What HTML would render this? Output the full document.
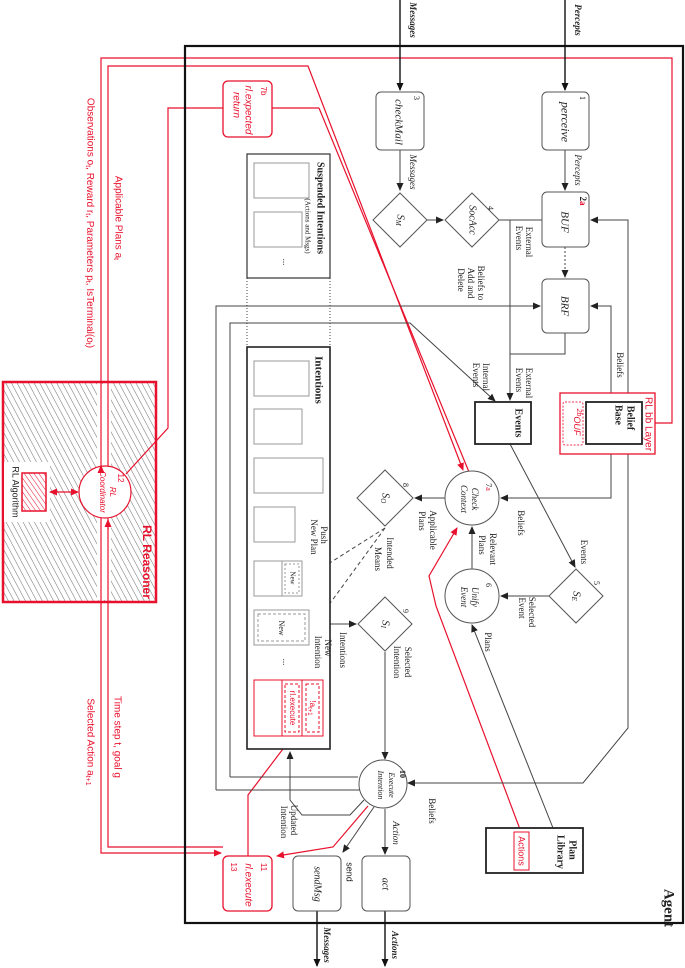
<!DOCTYPE html>
<html><head><meta charset="utf-8"><style>
html,body{margin:0;padding:0;background:#fff;}
svg{display:block;}
text{font-family:"Liberation Serif",serif;fill:#222;}
.s{font-family:"Liberation Sans",sans-serif;}
.r{fill:#e8112d;}
.i{font-style:italic;}
.b{font-weight:bold;}
</style></head><body>
<svg width="685" height="968" viewBox="0 0 685 968" xmlns="http://www.w3.org/2000/svg">
<defs>
<marker id="ak" markerWidth="8" markerHeight="8" refX="7" refY="4" orient="auto" markerUnits="userSpaceOnUse"><path d="M0,0.5 L8,4 L0,7.5z" fill="#111"/></marker>
<marker id="ag" markerWidth="8" markerHeight="8" refX="7" refY="4" orient="auto" markerUnits="userSpaceOnUse"><path d="M0,0.5 L8,4 L0,7.5z" fill="#222"/></marker>
<marker id="ar" markerWidth="8" markerHeight="8" refX="7" refY="4" orient="auto" markerUnits="userSpaceOnUse"><path d="M0,0.5 L8,4 L0,7.5z" fill="#e8112d"/></marker>
<marker id="ars" markerWidth="8" markerHeight="8" refX="1" refY="4" orient="auto" markerUnits="userSpaceOnUse"><path d="M8,0.5 L0,4 L8,7.5z" fill="#e8112d"/></marker>
<pattern id="h" width="5" height="5" patternUnits="userSpaceOnUse" patternTransform="rotate(-28)"><line x1="0" y1="0" x2="0" y2="5" stroke="#777" stroke-width="1.1"/></pattern>
<pattern id="hr" width="4" height="4" patternUnits="userSpaceOnUse" patternTransform="rotate(-35)"><line x1="0" y1="0" x2="0" y2="4" stroke="#e8112d" stroke-width="1"/></pattern>
</defs>

<!-- RL Reasoner -->
<rect x="3" y="382" width="153" height="220" fill="url(#h)" stroke="#e8112d" stroke-width="2.5"/>
<rect x="97" y="384" width="14" height="216" fill="#fff"/>
<rect x="4" y="462" width="46" height="60" fill="#fff"/>
<rect x="22" y="473" width="24" height="38" fill="url(#hr)" stroke="#e8112d" stroke-width="1.5"/>
<circle cx="105" cy="492" r="26" fill="#fff" stroke="#e8112d" stroke-width="1.2"/>
<line x1="50" y1="492" x2="78" y2="492" stroke="#e8112d" stroke-width="1.2" marker-end="url(#ar)" marker-start="url(#ars)"/>

<!-- red long lines -->
<g fill="none" stroke="#e8112d" stroke-width="1.2">
<polyline points="101,466 101,58 672,58 672,423 655,423"/>
<polyline points="108,466 108,66 308,66 463,470" marker-end="url(#ar)"/>
<polyline points="319,108 272,108"/>
<polyline points="319,108 469,472"/>
<polyline points="223,108 168,108 168,428 126,474"/>
<polyline points="108,518 108,847 223,847"/>
<polyline points="101,470 101,466" marker-end="url(#ar)"/>
<polyline points="101,518 101,853 221,853" marker-end="url(#ar)"/>
<polyline points="108,530 108,520" marker-end="url(#ar)"/>
<polyline points="521,832 436,606 429,576 457,528" marker-end="url(#ar)"/>
<polyline points="368,806 333,847 277,856" marker-end="url(#ar)"/>
<polyline points="248,856 248,795 289,741" marker-end="url(#ar)"/>
</g>

<!-- Agent -->
<rect x="185" y="46" width="498" height="877" fill="none" stroke="#111" stroke-width="2.2"/>

<!-- grey connectors -->
<g fill="none" stroke="#444" stroke-width="1">
<line x1="400" y1="150" x2="400" y2="190" marker-end="url(#ag)"/>
<line x1="565" y1="150" x2="565" y2="190" marker-end="url(#ag)"/>
<line x1="427" y1="220" x2="443" y2="220" marker-end="url(#ag)"/>
<line x1="499" y1="220" x2="542" y2="220"/>
<line x1="510" y1="220" x2="510" y2="400" marker-end="url(#ag)"/>
<line x1="565" y1="247" x2="565" y2="277" stroke-dasharray="2,2" marker-end="url(#ag)"/>
<polyline points="565,333 565,354 510,354"/>
<polyline points="628,396 628,220 591,220" marker-end="url(#ag)"/>
<polyline points="611,400 611,306 591,306" marker-end="url(#ag)"/>
<polyline points="611,306 611,400" marker-end="url(#ag)"/>
<polyline points="628,220 628,400" marker-end="url(#ag)"/>
<polyline points="628,454 628,728 583,783 408,783" marker-end="url(#ag)"/>
<polyline points="611,454 611,498 501,498" marker-end="url(#ag)"/>
<polyline points="216,790 216,306 540,306" marker-end="url(#ag)"/>
<polyline points="230,777 230,323 410,323 495,401" marker-end="url(#ag)"/>
<line x1="358" y1="777" x2="230" y2="777"/>
<line x1="360" y1="790" x2="216" y2="790"/>
<line x1="510" y1="444" x2="575" y2="567" marker-end="url(#ag)"/>
<line x1="549" y1="596" x2="501" y2="596" marker-end="url(#ag)"/>
<line x1="472" y1="569" x2="472" y2="527" marker-end="url(#ag)"/>
<line x1="553" y1="828" x2="472" y2="625" marker-end="url(#ag)"/>
<line x1="445" y1="498" x2="415" y2="498" marker-end="url(#ag)"/>
<line x1="385" y1="528" x2="306" y2="578" stroke-dasharray="4,3" marker-end="url(#ag)"/>
<line x1="385" y1="528" x2="312" y2="628" stroke-dasharray="4,3" marker-end="url(#ag)"/>
<line x1="330" y1="624" x2="356" y2="624" marker-end="url(#ag)"/>
<line x1="385" y1="652" x2="385" y2="759" marker-end="url(#ag)"/>
<line x1="385" y1="809" x2="385" y2="854" marker-end="url(#ag)"/>
<line x1="374" y1="807" x2="343" y2="852" marker-end="url(#ag)"/>
<polyline points="364,800 350,815 302,815 290,800 290,752" marker-end="url(#ag)"/>
<line x1="247" y1="278" x2="247" y2="347" stroke-dasharray="1,2"/>
<line x1="330" y1="278" x2="330" y2="347" stroke-dasharray="1,2"/>
</g>
<g stroke="#111" stroke-width="1.4">
<line x1="400" y1="0" x2="400" y2="90" marker-end="url(#ak)"/>
<line x1="565" y1="0" x2="565" y2="90" marker-end="url(#ak)"/>
<line x1="317" y1="911" x2="317" y2="966" marker-end="url(#ak)"/>
<line x1="385" y1="911" x2="385" y2="966" marker-end="url(#ak)"/>
</g>

<!-- nodes -->
<g fill="#fff" stroke="#555" stroke-width="1">
<rect x="542" y="92" width="47" height="58" rx="5"/>
<rect x="376" y="92" width="48" height="58" rx="5"/>
<rect x="542" y="192" width="47" height="55" rx="5"/>
<rect x="542" y="279" width="47" height="54" rx="5"/>
<polygon points="400,193 427,220 400,247 373,220"/>
<polygon points="472,193 499,220 472,247 445,220"/>
<polygon points="385,470 413,498 385,526 357,498"/>
<polygon points="576,569 603,596 576,623 549,596"/>
<polygon points="385,597 412,624 385,651 358,624"/>
<circle cx="472" cy="498" r="27"/>
<circle cx="472" cy="596" r="27"/>
<circle cx="383" cy="784" r="24"/>
<rect x="362" y="856" width="48" height="55" rx="5"/>
<rect x="293" y="856" width="48" height="55" rx="5"/>
</g>
<rect x="247" y="154" width="83" height="124" fill="#fff" stroke="#333" stroke-width="1.2"/>
<rect x="254" y="163" width="55" height="35" fill="none" stroke="#999"/>
<rect x="254" y="212" width="48" height="35" fill="none" stroke="#999"/>
<rect x="247" y="347" width="83" height="402" fill="#fff" stroke="#222" stroke-width="1.6"/>
<g fill="none" stroke="#999">
<rect x="254" y="361" width="55" height="35"/>
<rect x="254" y="409" width="48" height="35"/>
<rect x="254" y="458" width="69" height="35"/>
<rect x="254" y="507" width="41" height="35"/>
<rect x="254" y="561" width="48" height="35"/>
<line x1="282" y1="561" x2="282" y2="596"/>
<rect x="285" y="564" width="14" height="29" stroke-dasharray="2,2"/>
<rect x="254" y="610" width="55" height="35"/>
<rect x="258" y="614" width="47" height="27" stroke-dasharray="3,2"/>
</g>
<g fill="none" stroke="#e8112d" stroke-width="1">
<rect x="254" y="680" width="69" height="56"/>
<line x1="282" y1="680" x2="282" y2="736"/>
<line x1="302" y1="680" x2="302" y2="736"/>
<rect x="285" y="684" width="14" height="48" stroke-dasharray="3,2"/>
<rect x="306" y="684" width="13" height="48" stroke-dasharray="3,2"/>
<rect x="223" y="81" width="49" height="56" rx="5" stroke-width="1.3" fill="#fff"/>
<rect x="223" y="856" width="49" height="55" rx="5" stroke-width="1.3" fill="#fff"/>
<rect x="560" y="393" width="95" height="61" stroke-width="1.3" fill="#fff"/>
<rect x="563" y="402" width="20" height="43" rx="2" stroke="#e35" stroke-dasharray="2,1.5"/>
</g>
<rect x="475" y="402" width="56" height="42" fill="#fff" stroke="#222" stroke-width="1.8"/>
<rect x="586" y="402" width="56" height="42" fill="#fff" stroke="#222" stroke-width="1.8"/>
<rect x="486" y="828" width="97" height="45" fill="#fff" stroke="#222" stroke-width="1.8"/>
<rect x="514" y="832" width="15" height="38" fill="#fff" stroke="#e8112d" stroke-width="1"/>

<!-- labels -->
<g font-size="10" text-anchor="middle" dominant-baseline="middle">
<text x="577" y="20" transform="rotate(90 577 20)" class="i b" font-size="9">Percepts</text>
<text x="412" y="20" transform="rotate(90 412 20)" class="i b" font-size="9">Messages</text>
<text x="582" y="98" transform="rotate(90 582 98)" font-size="8">1</text>
<text x="564" y="122" transform="rotate(90 564 122)" class="i" font-size="12">perceive</text>
<text x="416" y="98" transform="rotate(90 416 98)" font-size="8">3</text>
<text x="398" y="122" transform="rotate(90 398 122)" class="i" font-size="11">checkMail</text>
<text x="577" y="170" transform="rotate(90 577 170)" class="i" font-size="9">Percepts</text>
<text x="412" y="172" transform="rotate(90 412 172)" class="i" font-size="9">Messages</text>
<text x="400" y="220" transform="rotate(90 400 220)" class="i" font-size="11">S<tspan font-size="7" dy="2">M</tspan></text>
<text x="472" y="220" transform="rotate(90 472 220)" class="i" font-size="10">SocAcc</text>
<text x="490" y="208" transform="rotate(90 490 208)" font-size="8">4</text>
<text x="582" y="201" transform="rotate(90 582 201)" font-size="9" class="b"><tspan>2</tspan><tspan class="r">a</tspan></text>
<text x="564" y="222" transform="rotate(90 564 222)" class="i" font-size="11">BUF</text>
<text x="564" y="306" transform="rotate(90 564 306)" class="i" font-size="11">BRF</text>
<text x="528" y="242" transform="rotate(90 528 242)" font-size="9">External</text>
<text x="518" y="238" transform="rotate(90 518 238)" font-size="9">Events</text>
<text x="480" y="283" transform="rotate(90 480 283)" font-size="9">Beliefs to</text>
<text x="470" y="283" transform="rotate(90 470 283)" font-size="9">Add and</text>
<text x="460" y="280" transform="rotate(90 460 280)" font-size="9">Delete</text>
<text x="320" y="208" transform="rotate(90 320 208)" class="b" font-size="10">Suspended Intentions</text>
<text x="307" y="226" transform="rotate(90 307 226)" font-size="7">(Actions and Msgs)</text>
<text x="285" y="262" transform="rotate(90 285 262)" font-size="9">...</text>
<text x="318" y="380" transform="rotate(90 318 380)" class="b" font-size="11">Intentions</text>
<text x="485" y="377" transform="rotate(90 485 377)" font-size="9">Internal</text>
<text x="475" y="375" transform="rotate(90 475 375)" font-size="9">Events</text>
<text x="528" y="383" transform="rotate(90 528 383)" font-size="9">External</text>
<text x="518" y="380" transform="rotate(90 518 380)" font-size="9">Events</text>
<text x="619" y="365" transform="rotate(90 619 365)" font-size="9">Beliefs</text>
<text x="648" y="424" transform="rotate(90 648 424)" class="s r" font-size="10">RL bb Layer</text>
<text x="630" y="418" transform="rotate(90 630 418)" class="b" font-size="10">Belief</text>
<text x="618" y="415" transform="rotate(90 618 415)" class="b" font-size="10">Base</text>
<text x="576" y="422" transform="rotate(90 576 422)" class="s i r" font-size="9"><tspan font-size="7" dy="-3">2b</tspan><tspan dy="3">OUF</tspan></text>
<text x="518" y="423" transform="rotate(90 518 423)" class="b" font-size="10">Events</text>
<text x="488" y="487" transform="rotate(90 488 487)" font-size="8">7<tspan class="r">a</tspan></text>
<text x="474" y="499" transform="rotate(90 474 499)" class="i" font-size="9">Check</text>
<text x="463" y="499" transform="rotate(90 463 499)" class="i" font-size="9">Context</text>
<text x="520" y="523" transform="rotate(90 520 523)" font-size="9">Beliefs</text>
<text x="432" y="530" transform="rotate(90 432 530)" font-size="9">Applicable</text>
<text x="421" y="521" transform="rotate(90 421 521)" font-size="9">Plans</text>
<text x="385" y="498" transform="rotate(90 385 498)" class="i" font-size="11">S<tspan font-size="7" dy="2">O</tspan></text>
<text x="405" y="485" transform="rotate(90 405 485)" font-size="8">8</text>
<text x="492" y="549" transform="rotate(90 492 549)" font-size="9">Relevant</text>
<text x="481" y="545" transform="rotate(90 481 545)" font-size="9">Plans</text>
<text x="583" y="552" transform="rotate(90 583 552)" font-size="9">Events</text>
<text x="531" y="612" transform="rotate(90 531 612)" font-size="9">Selected</text>
<text x="521" y="608" transform="rotate(90 521 608)" font-size="9">Event</text>
<text x="576" y="596" transform="rotate(90 576 596)" class="i" font-size="11">S<tspan font-size="7" dy="2">E</tspan></text>
<text x="596" y="583" transform="rotate(90 596 583)" font-size="8">5</text>
<text x="488" y="585" transform="rotate(90 488 585)" font-size="8">6</text>
<text x="474" y="597" transform="rotate(90 474 597)" class="i" font-size="9">Unify</text>
<text x="463" y="597" transform="rotate(90 463 597)" class="i" font-size="9">Event</text>
<text x="323" y="535" transform="rotate(90 323 535)" font-size="9">Push</text>
<text x="313" y="537" transform="rotate(90 313 537)" font-size="9">New Plan</text>
<text x="389" y="553" transform="rotate(90 389 553)" font-size="9">Intended</text>
<text x="377" y="559" transform="rotate(90 377 559)" font-size="9">Means</text>
<text x="292" y="578" transform="rotate(90 292 578)" font-size="7">New</text>
<text x="281" y="628" transform="rotate(90 281 628)" font-size="8">New</text>
<text x="385" y="624" transform="rotate(90 385 624)" class="i" font-size="11">S<tspan font-size="7" dy="2">I</tspan></text>
<text x="405" y="611" transform="rotate(90 405 611)" font-size="8">9</text>
<text x="342" y="650" transform="rotate(90 342 650)" font-size="9">Intentions</text>
<text x="327" y="648" transform="rotate(90 327 648)" font-size="9">New</text>
<text x="317" y="652" transform="rotate(90 317 652)" font-size="9">Intention</text>
<text x="407" y="662" transform="rotate(90 407 662)" font-size="9">Selected</text>
<text x="396" y="662" transform="rotate(90 396 662)" font-size="9">Intention</text>
<text x="487" y="642" transform="rotate(90 487 642)" font-size="9">Plans</text>
<text x="285" y="662" transform="rotate(90 285 662)" font-size="9">...</text>
<text x="292" y="708" transform="rotate(90 292 708)" class="s r" font-size="8">rl.execute</text>
<text x="312" y="708" transform="rotate(90 312 708)" class="s r" font-size="8">!a<tspan font-size="6" dy="2">t+1</tspan></text>
<text x="402" y="774" transform="rotate(90 402 774)" class="b" font-size="8">10</text>
<text x="391" y="785" transform="rotate(90 391 785)" class="i" font-size="8">Execute</text>
<text x="380" y="785" transform="rotate(90 380 785)" class="i" font-size="8">Intention</text>
<text x="431" y="811" transform="rotate(90 431 811)" font-size="9">Beliefs</text>
<text x="395" y="833" transform="rotate(90 395 833)" class="i" font-size="9">Action</text>
<text x="349" y="872" transform="rotate(90 349 872)" class="s" font-size="9">send</text>
<text x="293" y="820" transform="rotate(90 293 820)" font-size="9">Updated</text>
<text x="283" y="822" transform="rotate(90 283 822)" font-size="9">Intention</text>
<text x="572" y="850" transform="rotate(90 572 850)" class="b" font-size="10">Plan</text>
<text x="560" y="852" transform="rotate(90 560 852)" class="b" font-size="10">Library</text>
<text x="521" y="851" transform="rotate(90 521 851)" class="s r" font-size="9">Actions</text>
<text x="385" y="884" transform="rotate(90 385 884)" class="i" font-size="10">act</text>
<text x="317" y="884" transform="rotate(90 317 884)" class="i" font-size="10">sendMsg</text>
<text x="263" y="867" transform="rotate(90 263 867)" class="s r" font-size="8">11</text>
<text x="248" y="885" transform="rotate(90 248 885)" class="s i r" font-size="10">rl.execute</text>
<text x="233" y="867" transform="rotate(90 233 867)" class="s r" font-size="8">13</text>
<text x="263" y="91" transform="rotate(90 263 91)" class="s r" font-size="8">7b</text>
<text x="248" y="110" transform="rotate(90 248 110)" class="s i r" font-size="10">rl.expected</text>
<text x="236" y="105" transform="rotate(90 236 105)" class="s i r" font-size="10">return</text>
<text x="668" y="908" transform="rotate(90 668 908)" class="b" font-size="15">Agent</text>
<text x="326" y="945" transform="rotate(90 326 945)" class="i b" font-size="9">Messages</text>
<text x="394" y="945" transform="rotate(90 394 945)" class="i b" font-size="9">Actions</text>
<text x="90" y="223" transform="rotate(90 90 223)" class="s r" font-size="10">Observations o<tspan font-size="7" dy="2">t</tspan><tspan dy="-2">, Reward r</tspan><tspan font-size="7" dy="2">t</tspan><tspan dy="-2">, Parameters p</tspan><tspan font-size="7" dy="2">t</tspan><tspan dy="-2">, IsTerminal(o</tspan><tspan font-size="7" dy="2">t</tspan><tspan dy="-2">)</tspan></text>
<text x="118" y="218" transform="rotate(90 118 218)" class="s r" font-size="10">Applicable Plans a<tspan font-size="7" dy="2">t</tspan></text>
<text x="117" y="737" transform="rotate(90 117 737)" class="s r" font-size="10">Time step t, goal g</text>
<text x="90" y="742" transform="rotate(90 90 742)" class="s r" font-size="10">Selected Action a<tspan font-size="7" dy="2">t+1</tspan></text>
<text x="146" y="562" transform="rotate(90 146 562)" class="s b r" font-size="12">RL Reasoner</text>
<text x="15" y="492" transform="rotate(90 15 492)" class="s" font-size="9">RL Algorithm</text>
<text x="120" y="478" transform="rotate(90 120 478)" class="s r" font-size="8">12</text>
<text x="112" y="492" transform="rotate(90 112 492)" class="s i r" font-size="8">RL</text>
<text x="102" y="492" transform="rotate(90 102 492)" class="s i r" font-size="8">Coordinator</text>
</g>
</svg>
</body></html>
